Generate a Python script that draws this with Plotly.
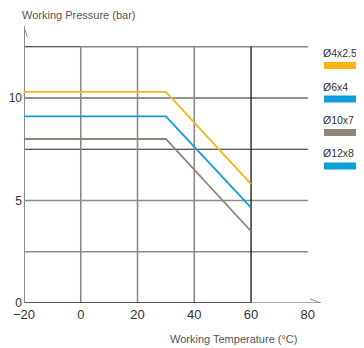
import plotly.graph_objects as go

# values
temperature = [-20, 30, 60]
pressure_4x2_5 = [10.3, 10.3, 5.8]
pressure_6x4 = [9.1, 9.1, 4.65]
pressure_10x7 = [8.0, 8.0, 3.5]

legend_labels = ["Ø4x2.5", "Ø6x4", "Ø10x7", "Ø12x8"]
x_ticks = [-20, 0, 20, 40, 60, 80]
y_ticks = [0, 5, 10]
y_grid_dark = [7.5, 10]
y_grid_grey = [2.5, 5]
x_grid = [0, 20, 40]

YELLOW = "#F6B512"
BLUE = "#0E9EDA"
GREY = "#8E8575"
DARK = "#222222"
LINE_GREY = "#8A8A8A"
TEXT = "#333333"
FONT = "Liberation Sans Narrow, Liberation Sans, Arial"

legend_colors = [YELLOW, BLUE, GREY, BLUE]

# the page body has an 8px margin, so the figure is shifted by that much
PAGE = 8
W, H = 364 - PAGE, 348 - PAGE
M = dict(l=24 - PAGE, r=42, t=16 - PAGE, b=45, autoexpand=False)


def paper_x(px):
    return (px - PAGE - M["l"]) / (W - M["l"] - M["r"])


def paper_y(py):
    return (H - M["b"] - (py - PAGE)) / (H - M["t"] - M["b"])


fig = go.Figure()

for name, values, color in [
    ("Ø4x2.5", pressure_4x2_5, YELLOW),
    ("Ø6x4", pressure_6x4, BLUE),
    ("Ø10x7", pressure_10x7, GREY),
]:
    fig.add_trace(go.Scatter(x=temperature, y=values, mode="lines", name=name,
                             line=dict(color=color, width=1.8), showlegend=False))

shapes = []


def seg(x0, y0, x1, y1, color, width):
    shapes.append(dict(type="line", xref="x", yref="y", x0=x0, y0=y0, x1=x1, y1=y1,
                       line=dict(color=color, width=width), layer="below"))


# horizontal grid
seg(-20, 12.5, 0, 12.5, DARK, 1.2)
seg(0, 12.5, 80, 12.5, LINE_GREY, 1.6)
for v in y_grid_dark:
    seg(-20, v, 80, v, DARK, 1.2)
for v in y_grid_grey:
    seg(-20, v, 80, v, LINE_GREY, 1.6)
# vertical grid
for v in x_grid:
    seg(v, 0, v, 12.5, LINE_GREY, 1.6)
seg(60, 0, 60, 12.5, DARK, 1.4)
# axes with arrows
seg(-20, 0, 60, 0, DARK, 1.4)
seg(60, 0, 84.5, 0, LINE_GREY, 1.4)
seg(80.8, 0.2, 84.5, 0, LINE_GREY, 1)
seg(80.8, -0.2, 84.5, 0, LINE_GREY, 1)
seg(-20, 0, -20, 13.5, LINE_GREY, 2)
seg(-21.2, 12.95, -20, 13.5, LINE_GREY, 1)
seg(-18.8, 12.95, -20, 13.5, LINE_GREY, 1)

annotations = [
    dict(text="Working Pressure (bar)", xref="paper", yref="paper",
         x=paper_x(20), y=paper_y(15), xanchor="left", yanchor="middle",
         showarrow=False, font=dict(size=11, color="#555555", family=FONT)),
    dict(text="Working Temperature (°C)", xref="paper", yref="paper",
         x=paper_x(233), y=paper_y(339), xanchor="center", yanchor="middle",
         showarrow=False, font=dict(size=11, color="#555555", family=FONT)),
]

# legend drawn as label + colour bar at the right edge
for i, (label, color) in enumerate(zip(legend_labels, legend_colors)):
    top = 53 + i * 33.5
    annotations.append(dict(text=label, xref="paper", yref="paper",
                            x=paper_x(321), y=paper_y(top), xanchor="left", yanchor="middle",
                            showarrow=False, font=dict(size=10.5, color=TEXT, family=FONT)))
    shapes.append(dict(type="rect", xref="paper", yref="paper",
                       x0=paper_x(324), x1=paper_x(366), y0=paper_y(top + 9), y1=paper_y(top + 16),
                       fillcolor=color, line=dict(width=0)))

fig.update_layout(
    width=W, height=H, margin=M,
    paper_bgcolor="white", plot_bgcolor="white",
    shapes=shapes, annotations=annotations,
    font=dict(family=FONT, size=13, color=TEXT),
    xaxis=dict(range=[-20, 85], tickvals=x_ticks, showgrid=False, zeroline=False,
               showline=False, ticks="", automargin=False, ticklabelstandoff=2,
               tickfont=dict(size=13, color=TEXT, family=FONT)),
    yaxis=dict(range=[0, 14], tickvals=y_ticks, showgrid=False, zeroline=False,
               showline=False, ticks="", automargin=False, ticklabelstandoff=1,
               tickfont=dict(size=12, color=TEXT, family=FONT)),
)

fig.write_html("out.html")
